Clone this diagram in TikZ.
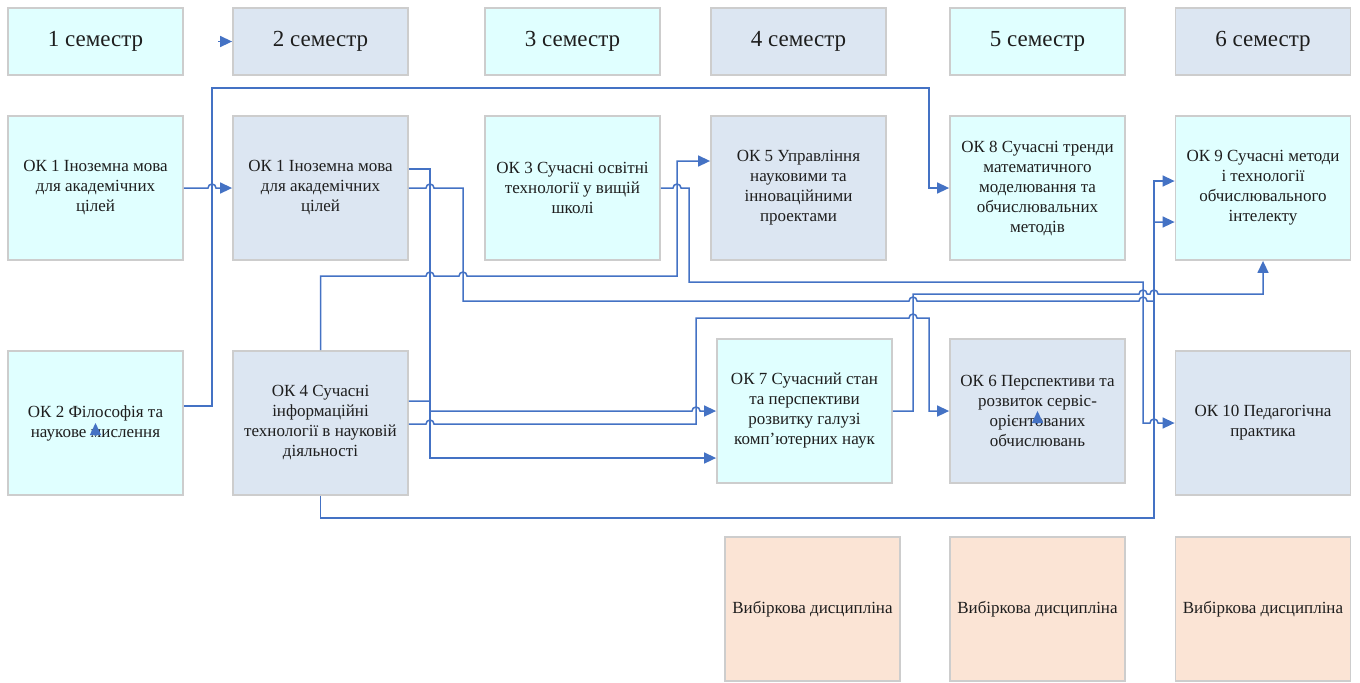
\documentclass[tikz,border=0pt]{standalone}
\usepackage{fontspec}
\setmainfont{Liberation Serif}
\usetikzlibrary{arrows.meta}
\definecolor{cyanfill}{RGB}{224,255,255}
\definecolor{greyfill}{RGB}{220,230,242}
\definecolor{peachfill}{RGB}{251,228,213}
\definecolor{boxline}{RGB}{205,205,205}
\definecolor{linkblue}{RGB}{68,114,196}
\definecolor{txt}{RGB}{30,30,30}
\tikzset{every picture/.style={line width=0.75pt}}
\tikzset{
  box/.style={draw=boxline, line width=0.9pt, minimum width=87.5pt, minimum height=72pt, inner sep=0pt, align=center, text=txt, font=\fontsize{8.5}{10}\selectfont},
  sembox/.style={box, minimum height=33.5pt, font=\fontsize{11.5}{13}\selectfont},
  cyanbox/.style={box, fill=cyanfill},
  greybox/.style={box, fill=greyfill},
  peachbox/.style={box, fill=peachfill},
  link/.style={draw=linkblue, line width=0.75pt, -{Triangle[length=6pt,width=5.5pt]}},
}
% jump over a crossing line
\newcommand{\hop}[2]{-- (#1-4,#2) arc[start angle=180,end angle=360,radius=2pt]}

\begin{document}
\begin{tikzpicture}[x=0.5pt,y=0.5pt,yscale=-1,xscale=1]
\useasboundingbox (0,0) rectangle (1360,682);

% Semesters
\node[sembox, fill=cyanfill] (sem1) at (95.5,41.5) {1 семестр};
\node[sembox, fill=greyfill] (sem2) at (320.5,41.5) {2 семестр};
\node[sembox, fill=cyanfill] (sem3) at (572.5,41.5) {3 семестр};
\node[sembox, fill=greyfill] (sem4) at (798.5,41.5) {4 семестр};
\node[sembox, fill=cyanfill] (sem5) at (1037.5,41.5) {5 семестр};
\node[sembox, fill=greyfill] (sem6) at (1263,41.5) {6 семестр};

% Courses, first row
\node[cyanbox] (ok1a) at (95.5,188) {ОК 1 Іноземна мова\\для академічних\\цілей};
\node[greybox] (ok1b) at (320.5,188) {ОК 1 Іноземна мова\\для академічних\\цілей};
\node[cyanbox] (ok3) at (572.5,188) {ОК 3 Сучасні освітні\\технології у вищій\\школі};
\node[greybox] (ok5) at (798.5,188) {ОК 5 Управління\\науковими та\\інноваційними\\проектами};
\node[cyanbox] (ok8) at (1037.5,188) {ОК 8 Сучасні тренди\\математичного\\моделювання та\\обчислювальних\\методів};
\node[cyanbox] (ok9) at (1263,188) {ОК 9 Сучасні методи\\і технології\\обчислювального\\інтелекту};

% Courses, second row
\node[cyanbox] (ok2) at (95.5,423) {ОК 2 Філософія та\\наукове мислення};
\node[greybox] (ok4) at (320.5,423) {ОК 4 Сучасні\\інформаційні\\технології в науковій\\діяльності};
\node[cyanbox] (ok7) at (804.5,411) {ОК 7 Сучасний стан\\та перспективи\\розвитку галузі\\комп’ютерних наук};
\node[greybox] (ok6) at (1037.5,411) {ОК 6 Перспективи та\\розвиток сервіс-\\орієнтованих\\обчислювань};
\node[greybox] (ok10) at (1263,423) {ОК 10 Педагогічна\\практика};

% Electives
\node[peachbox] (el1) at (812.5,609) {Вибіркова дисципліна};
\node[peachbox] (el2) at (1037.5,609) {Вибіркова дисципліна};
\node[peachbox] (el3) at (1263,609) {Вибіркова дисципліна};

% Connectors
\draw[link] (ok1a.east) \hop{212}{188} -- (ok1b.west);
\draw[link] (ok2.east |- 0,406) -- (212,406) -- (212,88) -- (929,88) |- (ok8.west);
\draw[link] (ok1b.east |- 0,169) -- (430,169) |- (ok7.west |- 0,458);
\draw[link] (ok1b.east) \hop{430}{188} -- (463,188) -- (463,301) \hop{913}{301} \hop{1143}{301} -- (1154,301) |- (ok9.west |- 0,222);
\draw[link] (ok4.north) -- (320.5,276) \hop{430}{276} \hop{463}{276} -- (677,276) |- (ok5.west |- 0,161);
\draw[link] (ok3.east) \hop{677}{188} -- (689,188) -- (689,282) -- (1143,282) -- (1143,423) \hop{1154}{423} -- (ok10.west);
\draw[link] (ok4.east |- 0,401) -- (430,401) -- (430,411) \hop{696}{411} -- (ok7.west);
\draw[link] (ok4.east |- 0,424) \hop{430}{424} -- (696,424) -- (696,318) \hop{913}{318} -- (929,318) |- (ok6.west);
\draw[link] (ok7.east) -- (913,411) -- (913,294) \hop{1143}{294} \hop{1154}{294} -- (1263,294) -- (ok9.south);
\draw[link] (ok4.south) -- (320.5,518) -- (1154,518) |- (ok9.west |- 0,181);

% Loose arrow heads
\coordinate (s2in) at (218,41.5);
\coordinate (ok2in) at (95.5,435);
\coordinate (ok6in) at (1037.5,423);
\draw[link] (s2in) -- (sem2.west);
\draw[link] (ok2in) -- (ok2.center);
\draw[link] (ok6in) -- (ok6.center);

\end{tikzpicture}
\end{document}
